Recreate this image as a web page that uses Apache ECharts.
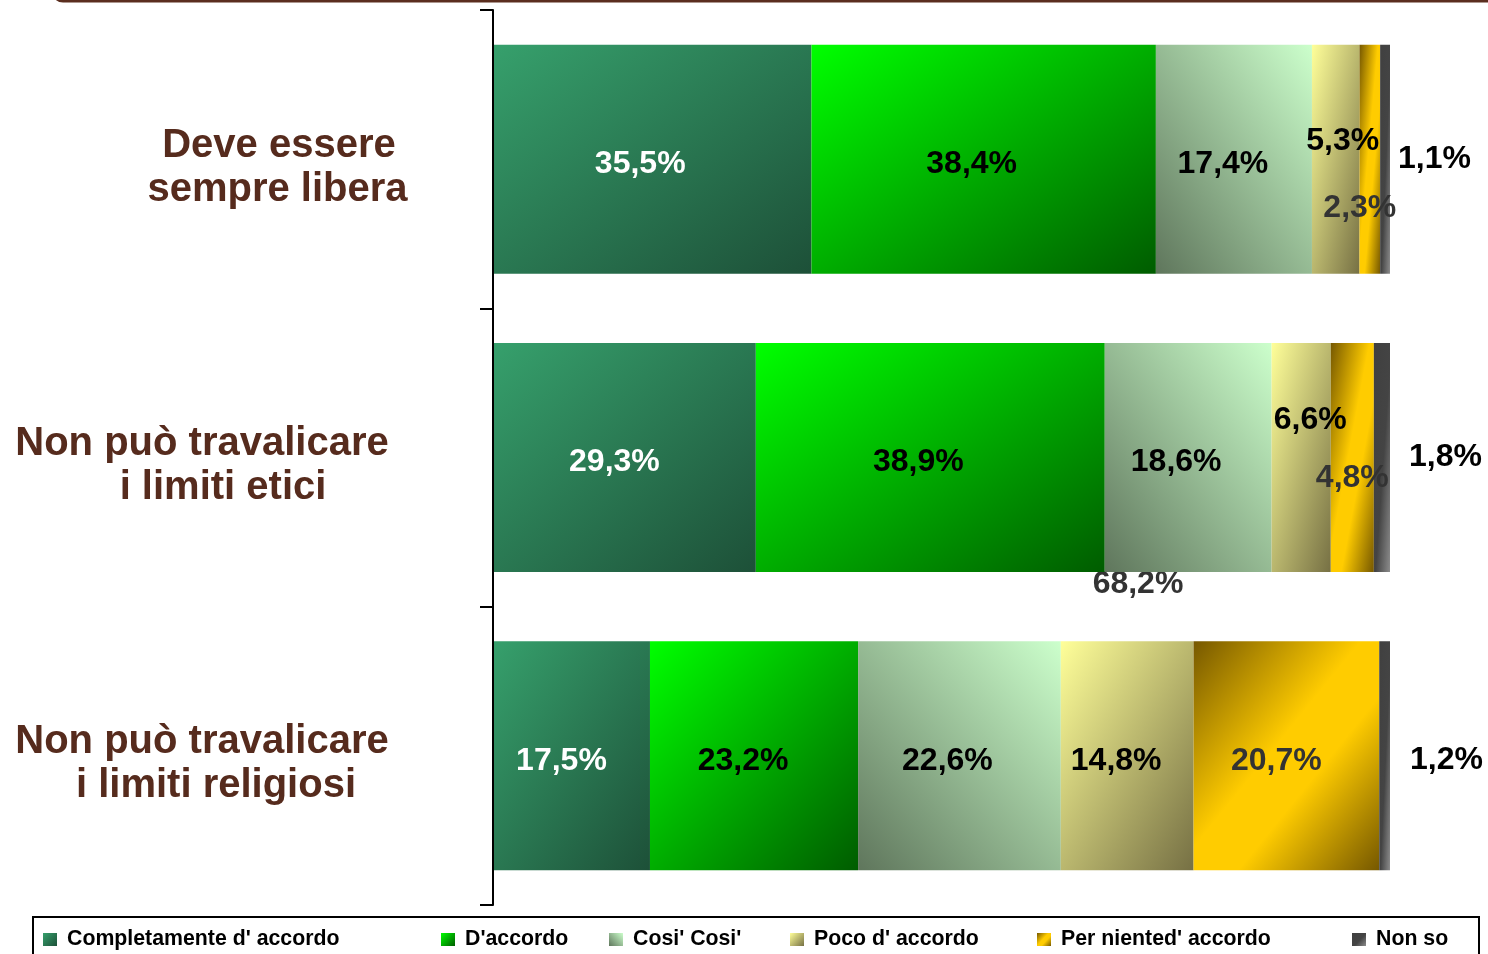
<!DOCTYPE html>
<html>
<head>
<meta charset="utf-8">
<script src="https://cdn.jsdelivr.net/npm/echarts@6/dist/echarts.min.js"></script>
<style>
html,body{margin:0;padding:0;background:#fff;}
#chart{width:1488px;height:954px;}
</style>
</head>
<body>
<div id="chart"></div>
<script>
// ---- data ----
const categories = ['Deve essere\nsempre libera', 'Non può travalicare\ni limiti etici', 'Non può travalicare\ni limiti religiosi'];
const seriesNames = ["Completamente d' accordo", "D'accordo", "Cosi' Cosi'", "Poco d' accordo", "Per niented' accordo", "Non so"];
const completamente = [35.5, 29.3, 17.5];
const daccordo = [38.4, 38.9, 23.2];
const cosicosi = [17.4, 18.6, 22.6];
const poco = [5.3, 6.6, 14.8];
const perniente = [2.3, 4.8, 20.7];
const nonso = [1.1, 1.8, 1.2];
const strayLabel = '68,2%';

// ---- styling ----
const FONT = "'Liberation Sans', Arial, Helvetica, sans-serif";
const PLOT_W = 897, BAR_H = 229;
const seriesValues = [completamente, daccordo, cosicosi, poco, perniente, nonso];
const gradStops = [
  [{offset:0,color:'#36a06c'},{offset:1,color:'#1d5038'}],
  [{offset:0,color:'#00ff00'},{offset:1,color:'#005c00'}],
  [{offset:0,color:'#ccffcc'},{offset:1,color:'#5f765c'}],
  [{offset:0,color:'#ffff99'},{offset:1,color:'#767044'}],
  [{offset:0,color:'#765800'},{offset:0.45,color:'#ffcc00'},{offset:0.62,color:'#ffcc00'},{offset:1,color:'#765800'}],
  [{offset:0,color:'#404040'},{offset:0.55,color:'#444444'},{offset:1,color:'#8c8c8c'}]
];
const fromRight = [false, false, true, false, false, false];
const labelColors = ['#ffffff', '#000000', '#000000', '#000000', '#333333', '#000000'];
const labelCfg = [
  [{offset:[-12,5]}, {offset:[-10,5]}, {offset:[-10,5]}],
  [{offset:[-12,5]}, {offset:[-12,5]}, {offset:[-11,5]}],
  [{offset:[-11,5]}, {offset:[-12,5]}, {offset:[-12,5]}],
  [{offset:[7,-18]}, {offset:[9,-37]}, {offset:[-11,5]}],
  [{offset:[-10,49]}, {offset:[0,21]}, {offset:[-10,5]}],
  [{position:'right',distance:8,offset:[0,0]}, {position:'right',distance:19,offset:[0,0]}, {position:'right',distance:20,offset:[0,4]}]
];
const legendX = [43, 441, 609, 790, 1037, 1352];

function diag(v, stops, rev) {
  const w = Math.max(v / 100 * PLOT_W, 1), h = BAR_H;
  const s = h * h + w * w;
  const gx = 2 * h * h / s, gy = 2 * w * w / s;
  return rev ? new echarts.graphic.LinearGradient(1, 0, 1 - gx, gy, stops)
             : new echarts.graphic.LinearGradient(0, 0, gx, gy, stops);
}
function fmt(p) { return p.value.toFixed(1).replace('.', ',') + '%'; }

const series = seriesNames.map((name, i) => ({
  name: name,
  type: 'bar',
  stack: 'total',
  barWidth: BAR_H,
  itemStyle: { color: fromRight[i] ? new echarts.graphic.LinearGradient(1,0,0,1,gradStops[i]) : new echarts.graphic.LinearGradient(0,0,1,1,gradStops[i]) },
  label: {
    show: true, position: 'inside', formatter: fmt,
    fontSize: 32, fontWeight: 'bold', fontFamily: FONT, color: labelColors[i]
  },
  emphasis: { disabled: true },
  data: seriesValues[i].map((v, c) => ({
    value: v,
    itemStyle: { color: diag(v, gradStops[i], fromRight[i]) },
    label: labelCfg[i][c]
  }))
}));

const catColor = '#562b1d';
const linePad = [[[0,0,0,78],[0,0,0,75]], [[0,76,0,0],[0,34,0,0]], [[0,76,0,0],[0,48,0,0]]];
const rich = {};
linePad.forEach((lines, i) => lines.forEach((p, j) => {
  rich['l' + i + j] = { fontSize: 40, fontWeight: 'bold', color: catColor, fontFamily: FONT, lineHeight: 44, align: 'center', padding: p };
}));

const chart = echarts.init(document.getElementById('chart'), null, { renderer: 'canvas' });
chart.setOption({
  animation: false,
  backgroundColor: '#ffffff',
  grid: { left: 493, right: 98, top: 10, bottom: 49, containLabel: false },
  xAxis: { type: 'value', min: 0, max: 100, show: false },
  yAxis: {
    type: 'category', inverse: true, data: categories, z: 5,
    axisLine: { show: true, lineStyle: { color: '#000', width: 2 } },
    axisTick: { show: true, length: 13, lineStyle: { color: '#000', width: 2 } },
    splitLine: { show: false },
    axisLabel: {
      margin: 253, align: 'center', verticalAlign: 'middle', padding: [17, 0, 0, 0],
      fontSize: 40, fontWeight: 'bold', color: catColor, fontFamily: FONT, lineHeight: 44,
      formatter: (v, i) => v.split('\n').map((l, j) => '{l' + i + j + '|' + l + '}').join('\n'),
      rich: rich
    }
  },
  legend: seriesNames.map((n, i) => ({
    data: [n], left: legendX[i], top: 929, padding: 0, selectedMode: false,
    itemWidth: 14, itemHeight: 13, icon: 'rect',
    textStyle: { fontSize: 21.3, fontWeight: 'bold', color: '#000', fontFamily: FONT, padding: [0, 0, 0, 5] }
  })),
  graphic: [
    { type: 'rect', shape: { x: 53, y: -31, width: 1480, height: 32, r: 10 }, style: { fill: 'none', stroke: '#5b2e1f', lineWidth: 3 }, silent: true },
    { type: 'rect', shape: { x: 33, y: 917, width: 1446, height: 60 }, style: { fill: 'none', stroke: '#000', lineWidth: 2 }, silent: true },
    { type: 'text', x: 1138, y: 584, style: { text: strayLabel, fontSize: 32, fontWeight: 'bold', fontFamily: FONT, fill: '#333', textAlign: 'center', textVerticalAlign: 'middle' }, silent: true }
  ],
  series: series
});
</script>
</body>
</html>
